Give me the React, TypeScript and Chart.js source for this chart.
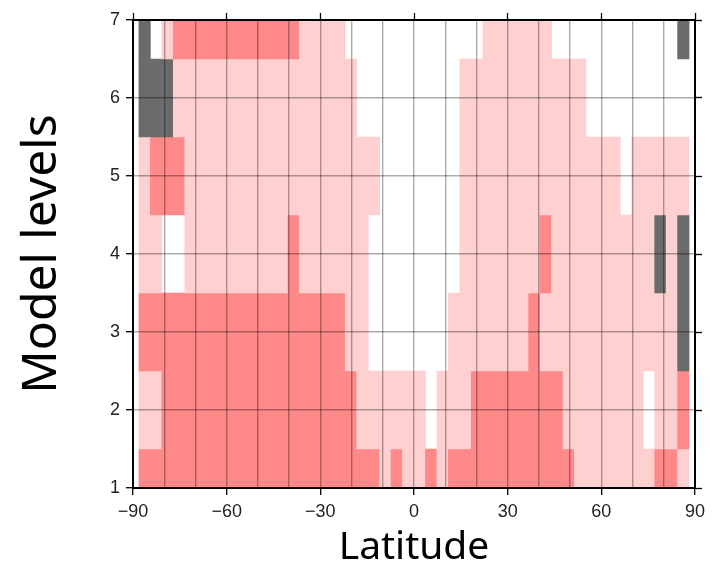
import React, { useEffect, useRef } from 'react';
import { Chart, registerables } from 'chart.js';

Chart.register(...registerables);

// Model levels (rows, bottom to top)
const levels = [1, 2, 3, 4, 5, 6, 7];

// Latitude cell edges (49 edges -> 48 cells)
const latEdges = [
  -88.1, -84.43, -80.76, -77.09, -73.42, -69.75, -66.08, -62.4, -58.73, -55.06,
  -51.39, -47.72, -44.05, -40.38, -36.71, -33.04, -29.37, -25.7, -22.03, -18.35,
  -14.68, -11.01, -7.34, -3.67, 0, 3.67, 7.34, 11.01, 14.68, 18.35,
  22.03, 25.7, 29.37, 33.04, 36.71, 40.38, 44.05, 47.72, 51.39, 55.06,
  58.73, 62.4, 66.08, 69.75, 73.42, 77.09, 80.76, 84.43, 88.1,
];

// Category per cell: 0 = none, 1 = light, 2 = strong, 3 = grey
const level1 = [2,2,2,2,2,2,2,2,2,2,2,2,2,2,2,2,2,2,2,2,2, 1, 2, 1,1, 2, 1, 2,2,2,2,2,2,2,2,2,2,2, 1,1,1,1,1,1,1, 2,2, 1];
const level2 = [1,1, 2,2,2,2,2,2,2,2,2,2,2,2,2,2,2,2,2, 1,1,1,1,1,1, 0, 1,1,1, 2,2,2,2,2,2,2,2, 1,1,1,1,1,1,1, 0, 1,1, 2];
const level3 = [2,2,2,2,2,2,2,2,2,2,2,2,2,2,2,2,2,2, 1,1, 0,0,0,0,0,0,0, 1,1,1,1,1,1,1, 2, 1,1,1,1,1,1,1,1,1,1,1,1, 3];
const level4 = [1,1, 0,0, 1,1,1,1,1,1,1,1,1, 2, 1,1,1,1,1,1, 0,0,0,0,0,0,0,0, 1,1,1,1,1,1,1, 2, 1,1,1,1,1,1,1,1,1, 3, 1, 3];
const level5 = [1, 2,2,2, 1,1,1,1,1,1,1,1,1,1,1,1,1,1,1,1,1, 0,0,0,0,0,0,0, 1,1,1,1,1,1,1,1,1,1,1,1,1,1, 0, 1,1,1,1,1];
const level6 = [3,3,3, 1,1,1,1,1,1,1,1,1,1,1,1,1,1,1,1, 0,0,0,0,0,0,0,0,0, 1,1,1,1,1,1,1,1,1,1,1, 0,0,0,0,0,0,0,0,0];
const level7 = [3, 0, 1, 2,2,2,2,2,2,2,2,2,2,2, 1,1,1,1, 0,0,0,0,0,0,0,0,0,0,0,0, 1,1,1,1,1,1, 0,0,0,0,0,0,0,0,0,0,0, 3];

const categoryColors = ['rgba(0,0,0,0)', '#FFD0D0', '#FF8888', '#6B6B6B'];

const xTickStep = 10;
const xLabelStep = 30;

function fmt(v: number): string {
  return v < 0 ? '\u2212' + Math.abs(v) : String(v);
}

function buildRuns() {
  const rows = [level1, level2, level3, level4, level5, level6, level7];
  const data: { x: [number, number]; y: number }[] = [];
  const colors: string[] = [];
  rows.forEach((row, li) => {
    let start = 0;
    for (let i = 1; i <= row.length; i++) {
      if (i === row.length || row[i] !== row[start]) {
        if (row[start] !== 0) {
          data.push({ x: [latEdges[start], latEdges[i]], y: levels[li] });
          colors.push(categoryColors[row[start]]);
        }
        start = i;
      }
    }
  });
  return { data, colors };
}

const tickFont = { family: '"Liberation Sans", Arial, sans-serif', size: 18 };
const gridColor = 'rgba(0,0,0,0.33)';

export default function App() {
  const ref = useRef<HTMLCanvasElement | null>(null);

  useEffect(() => {
    if (!ref.current) return;
    const { data, colors } = buildRuns();
    const chart = new Chart(ref.current, {
      type: 'bar',
      data: {
        datasets: [
          {
            data: data as any,
            backgroundColor: colors,
            borderWidth: 0,
            borderSkipped: false,
            barPercentage: 1,
            categoryPercentage: 1,
            grouped: false,
            clip: 0,
            xAxisID: 'x',
            yAxisID: 'y',
          } as any,
        ],
      },
      options: {
        indexAxis: 'y',
        animation: false,
        responsive: true,
        maintainAspectRatio: false,
        layout: { padding: 0 },
        plugins: { legend: { display: false }, tooltip: { enabled: false } },
        scales: {
          x: {
            type: 'linear',
            position: 'bottom',
            min: -90,
            max: 90,
            offset: false,
            ticks: {
              stepSize: xTickStep,
              autoSkip: false,
              maxRotation: 0,
              font: tickFont,
              color: '#222',
              padding: 6,
              callback: (v: any) => (Number(v) % xLabelStep === 0 ? fmt(Number(v)) : ''),
            },
            grid: {
              offset: false,
              color: gridColor,
              lineWidth: 1.4,
              tickLength: 7,
              tickColor: (ctx: any) =>
                ctx.tick && Number(ctx.tick.value) % xLabelStep === 0 ? '#000' : 'rgba(0,0,0,0)',
              tickWidth: 1.3,
              z: 1,
            },
            border: { color: '#000', width: 2, z: 2 },
            title: {
              display: true,
              text: 'Latitude',
              color: '#000',
              font: { family: '"Noto Sans", sans-serif', size: 39, lineHeight: 1 },
              padding: { top: 0, bottom: 0 },
            },
            afterFit: (s: any) => {
              s.height = 79;
            },
          } as any,
          x2: {
            type: 'linear',
            position: 'top',
            min: -90,
            max: 90,
            offset: false,
            ticks: { stepSize: xLabelStep, display: false },
            grid: { offset: false, drawOnChartArea: false, tickLength: 7, tickColor: '#000', tickWidth: 1.3 },
            border: { color: '#000', width: 2, z: 2 },
            afterFit: (s: any) => {
              s.height = 20;
            },
          } as any,
          y: {
            type: 'linear',
            position: 'left',
            min: 1,
            max: 7,
            offset: false,
            ticks: { stepSize: 1, font: tickFont, color: '#222', padding: 6 },
            grid: {
              offset: false,
              color: gridColor,
              lineWidth: 1.4,
              tickLength: 7,
              tickColor: '#000',
              tickWidth: 1.3,
              z: 1,
            },
            border: { color: '#000', width: 2, z: 2 },
            title: {
              display: true,
              text: 'Model levels',
              color: '#000',
              font: { family: '"Noto Sans", sans-serif', size: 48, lineHeight: 1.2 },
              padding: { top: 14, bottom: 0 },
            },
            afterFit: (s: any) => {
              s.width = 133;
            },
          } as any,
          y2: {
            type: 'linear',
            position: 'right',
            min: 1,
            max: 7,
            offset: false,
            ticks: { stepSize: 1, display: false },
            grid: { offset: false, drawOnChartArea: false, tickLength: 7, tickColor: '#000', tickWidth: 1.3 },
            border: { color: '#000', width: 2, z: 2 },
            afterFit: (s: any) => {
              s.width = 19;
            },
          } as any,
        },
      } as any,
    });
    return () => chart.destroy();
  }, []);

  return (
    <div style={{ position: 'fixed', left: 0, top: 0, width: 714, height: 567, background: '#fff' }}>
      <canvas ref={ref} />
    </div>
  );
}
